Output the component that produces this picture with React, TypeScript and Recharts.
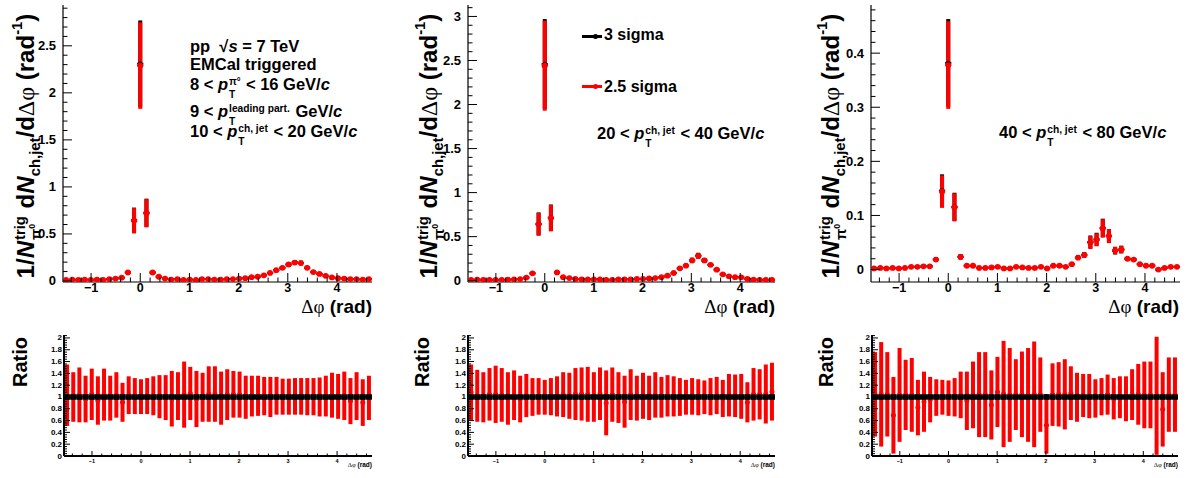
import React from "react";
import { ScatterChart, Scatter, XAxis, YAxis, ErrorBar } from "recharts";

const SANS = '"Liberation Sans", Arial, Helvetica, sans-serif';
const SERIF = '"Liberation Serif", "DejaVu Serif", serif';
const RED = "#ff0000";
const BLACK = "#000000";

// bin centres of the delta-phi histogram (50 bins over [-pi/2, 3pi/2])
const PHI = [
  -1.508, -1.382, -1.257, -1.131, -1.005, -0.88, -0.754, -0.628, -0.503, -0.377,
  -0.251, -0.126, 0.0, 0.126, 0.251, 0.377, 0.503, 0.628, 0.754, 0.88,
  1.005, 1.131, 1.257, 1.382, 1.508, 1.634, 1.759, 1.885, 2.011, 2.136,
  2.262, 2.388, 2.513, 2.639, 2.765, 2.89, 3.016, 3.142, 3.267, 3.393,
  3.519, 3.644, 3.77, 3.896, 4.021, 4.147, 4.273, 4.398, 4.524, 4.65,
];
const HALF_BIN = 0.0628;
const X_DOMAIN: [number, number] = [-1.5708, 4.7124];

// 10 < pT < 20
const Y1_25 = [
  0.01, 0.015, 0.012, 0.015, 0.012, 0.015, 0.012, 0.02, 0.025, 0.035,
  0.09, 0.64, 2.29, 0.72, 0.09, 0.045, 0.025, 0.015, 0.02, 0.01,
  0.015, 0.01, 0.02, 0.02, 0.015, 0.015, 0.02, 0.02, 0.025, 0.03,
  0.04, 0.045, 0.06, 0.085, 0.115, 0.14, 0.175, 0.195, 0.19, 0.14,
  0.095, 0.075, 0.055, 0.038, 0.03, 0.025, 0.02, 0.018, 0.015, 0.02,
];
const Y1_3 = [
  0.01, 0.015, 0.012, 0.015, 0.012, 0.015, 0.012, 0.02, 0.025, 0.035,
  0.09, 0.645, 2.31, 0.725, 0.09, 0.045, 0.025, 0.015, 0.02, 0.01,
  0.015, 0.01, 0.02, 0.02, 0.015, 0.015, 0.02, 0.02, 0.025, 0.03,
  0.04, 0.045, 0.06, 0.085, 0.115, 0.14, 0.175, 0.198, 0.192, 0.14,
  0.095, 0.075, 0.055, 0.038, 0.03, 0.025, 0.02, 0.018, 0.015, 0.02,
];
const E1 = [
  0.004, 0.004, 0.004, 0.004, 0.004, 0.004, 0.004, 0.004, 0.005, 0.005,
  0.012, 0.135, 0.46, 0.15, 0.012, 0.006, 0.005, 0.004, 0.004, 0.004,
  0.004, 0.004, 0.004, 0.004, 0.004, 0.004, 0.004, 0.004, 0.005, 0.005,
  0.006, 0.006, 0.008, 0.01, 0.013, 0.016, 0.02, 0.024, 0.024, 0.02,
  0.015, 0.011, 0.008, 0.006, 0.005, 0.005, 0.004, 0.004, 0.004, 0.004,
];

// 20 < pT < 40
const Y2_25 = [
  0.01, 0.012, 0.01, 0.01, 0.008, 0.01, 0.012, 0.015, 0.018, 0.035,
  0.083, 0.64, 2.44, 0.71, 0.094, 0.04, 0.03, 0.02, 0.015, 0.015,
  0.015, 0.015, 0.01, 0.01, 0.015, 0.015, 0.015, 0.02, 0.02, 0.025,
  0.03, 0.04, 0.057, 0.087, 0.14, 0.17, 0.23, 0.28, 0.23, 0.18,
  0.125, 0.072, 0.05, 0.04, 0.038, 0.02, 0.012, 0.01, 0.01, 0.01,
];
const Y2_3 = [
  0.01, 0.012, 0.01, 0.01, 0.008, 0.01, 0.012, 0.015, 0.018, 0.035,
  0.083, 0.645, 2.46, 0.715, 0.094, 0.04, 0.03, 0.02, 0.015, 0.015,
  0.015, 0.015, 0.01, 0.01, 0.015, 0.015, 0.015, 0.02, 0.02, 0.025,
  0.03, 0.04, 0.057, 0.087, 0.14, 0.17, 0.23, 0.285, 0.23, 0.18,
  0.125, 0.072, 0.05, 0.04, 0.038, 0.02, 0.012, 0.01, 0.01, 0.01,
];
const E2 = [
  0.004, 0.004, 0.004, 0.004, 0.004, 0.004, 0.004, 0.004, 0.005, 0.006,
  0.012, 0.13, 0.51, 0.15, 0.012, 0.006, 0.005, 0.004, 0.004, 0.004,
  0.004, 0.004, 0.004, 0.004, 0.004, 0.004, 0.004, 0.004, 0.005, 0.005,
  0.006, 0.007, 0.009, 0.012, 0.018, 0.02, 0.03, 0.032, 0.028, 0.022,
  0.016, 0.01, 0.008, 0.006, 0.006, 0.005, 0.004, 0.004, 0.004, 0.004,
];

// 40 < pT < 80
const Y3_25 = [
  0.002, 0.003, 0.002, 0.003, 0.002, 0.003, 0.005, 0.005, 0.006, 0.006,
  0.0185, 0.144, 0.378, 0.115, 0.0235, 0.007, 0.007, 0.003, 0.003, 0.004,
  0.005, 0.002, 0.002, 0.005, 0.004, 0.003, 0.003, 0.005, 0.002, 0.007,
  0.007, 0.005, 0.01, 0.022, 0.027, 0.05, 0.055, 0.076, 0.062, 0.035,
  0.037, 0.02, 0.0185, 0.01, 0.007, 0.007, 0.0, 0.003, 0.005, 0.005,
];
const Y3_3 = [
  0.002, 0.003, 0.002, 0.003, 0.002, 0.003, 0.005, 0.005, 0.006, 0.006,
  0.0185, 0.146, 0.382, 0.116, 0.0235, 0.007, 0.007, 0.003, 0.003, 0.004,
  0.005, 0.002, 0.002, 0.005, 0.004, 0.003, 0.003, 0.005, 0.002, 0.007,
  0.007, 0.005, 0.01, 0.022, 0.027, 0.051, 0.056, 0.077, 0.062, 0.035,
  0.037, 0.02, 0.0185, 0.01, 0.007, 0.007, 0.0, 0.003, 0.005, 0.005,
];
const E3 = [
  0.0015, 0.0015, 0.0015, 0.0015, 0.0015, 0.0015, 0.0015, 0.0015, 0.0015, 0.0015,
  0.004, 0.03, 0.081, 0.026, 0.005, 0.0015, 0.0015, 0.0015, 0.0015, 0.0015,
  0.0015, 0.0015, 0.0015, 0.0015, 0.0015, 0.0015, 0.0015, 0.0015, 0.0015, 0.002,
  0.002, 0.0015, 0.003, 0.004, 0.005, 0.012, 0.012, 0.017, 0.013, 0.007,
  0.007, 0.003, 0.003, 0.002, 0.0015, 0.0015, 0.0015, 0.0015, 0.0015, 0.0015,
];

// ratios 2.5 sigma / 3 sigma
const R1 = [
  1.03, 1.0, 1.035, 0.965, 1.045, 0.94, 1.04, 0.98, 1.035, 0.91,
  1.03, 1.015, 1.005, 1.015, 1.02, 1.005, 0.99, 0.97, 1.015, 1.04,
  1.06, 0.965, 0.995, 1.05, 1.05, 0.98, 1.04, 1.045, 1.04, 0.995,
  1.015, 1.02, 1.015, 1.0, 1.02, 1.005, 1.005, 1.01, 1.01, 1.005,
  1.005, 1.0, 1.015, 1.03, 1.01, 1.02, 0.93, 1.015, 0.905, 0.985,
];
const RE1 = [
  0.52, 0.42, 0.465, 0.395, 0.435, 0.41, 0.44, 0.38, 0.385, 0.33,
  0.32, 0.305, 0.295, 0.305, 0.33, 0.365, 0.38, 0.47, 0.405, 0.56,
  0.45, 0.475, 0.415, 0.47, 0.47, 0.45, 0.43, 0.395, 0.39, 0.365,
  0.345, 0.34, 0.325, 0.34, 0.32, 0.305, 0.305, 0.31, 0.31, 0.315,
  0.315, 0.33, 0.345, 0.38, 0.38, 0.41, 0.39, 0.405, 0.395, 0.375,
];
const R2 = [
  1.08, 1.02, 0.995, 1.045, 1.045, 1.035, 0.975, 1.03, 0.965, 1.025,
  1.0, 1.01, 0.995, 1.005, 1.01, 1.04, 1.02, 1.05, 1.05, 1.045,
  1.0, 1.055, 0.9, 1.04, 0.99, 0.92, 1.04, 0.98, 1.02, 0.985,
  1.035, 0.995, 1.02, 1.01, 1.0, 0.995, 1.01, 0.995, 0.995, 1.005,
  1.025, 0.975, 1.03, 1.02, 1.01, 0.91, 1.045, 1.045, 1.05, 1.09,
];
const RE2 = [
  0.47, 0.44, 0.425, 0.445, 0.485, 0.455, 0.445, 0.42, 0.395, 0.365,
  0.32, 0.31, 0.295, 0.315, 0.34, 0.38, 0.39, 0.44, 0.45, 0.465,
  0.42, 0.445, 0.55, 0.46, 0.43, 0.44, 0.43, 0.38, 0.39, 0.375,
  0.385, 0.345, 0.35, 0.34, 0.32, 0.295, 0.31, 0.305, 0.285, 0.315,
  0.315, 0.315, 0.36, 0.36, 0.38, 0.34, 0.445, 0.425, 0.5, 0.49,
];
const R3 = [
  1.045, 1.045, 1.045, 0.69, 1.035, 1.035, 1.035, 0.82, 0.92, 0.955,
  0.99, 0.995, 0.98, 0.995, 1.035, 0.935, 1.035, 1.04, 1.04, 0.865,
  1.085, 1.05, 1.035, 1.04, 1.045, 1.035, 1.045, 1.04, 0.52, 1.04,
  1.045, 1.045, 1.065, 0.995, 1.025, 1.015, 0.975, 1.005, 1.04, 0.97,
  0.995, 0.97, 1.04, 1.045, 1.035, 1.035, 1.02, 0.79, 1.04, 1.04,
];
const RE3 = [
  0.715, 0.885, 0.715, 0.65, 0.795, 0.595, 0.625, 0.47, 0.51, 0.385,
  0.31, 0.295, 0.3, 0.325, 0.395, 0.495, 0.565, 0.72, 0.72, 0.585,
  0.595, 0.9, 0.795, 0.6, 0.725, 0.795, 0.895, 0.63, 0.48, 0.53,
  0.545, 0.595, 0.455, 0.415, 0.365, 0.375, 0.325, 0.315, 0.34, 0.35,
  0.355, 0.38, 0.43, 0.515, 0.565, 0.565, 1.0, 0.63, 0.63, 0.63,
];
const ONES = [
  1, 1, 1, 1, 1, 1, 1, 1, 1, 1, 1, 1, 1, 1, 1, 1, 1, 1, 1, 1, 1, 1, 1, 1, 1,
  1, 1, 1, 1, 1, 1, 1, 1, 1, 1, 1, 1, 1, 1, 1, 1, 1, 1, 1, 1, 1, 1, 1, 1, 1,
];
const NO_ERR = [
  0, 0, 0, 0, 0, 0, 0, 0, 0, 0, 0, 0, 0, 0, 0, 0, 0, 0, 0, 0, 0, 0, 0, 0, 0,
  0, 0, 0, 0, 0, 0, 0, 0, 0, 0, 0, 0, 0, 0, 0, 0, 0, 0, 0, 0, 0, 0, 0, 0, 0,
];

// tick labels
const X_LABELS = [-1, 0, 1, 2, 3, 4];
const Y1_LABELS = [0, 0.5, 1, 1.5, 2, 2.5];
const Y2_LABELS = [0, 0.5, 1, 1.5, 2, 2.5, 3];
const Y3_LABELS = [0, 0.1, 0.2, 0.3, 0.4];
const R_LABELS = [0, 0.2, 0.4, 0.6, 0.8, 1, 1.2, 1.4, 1.6, 1.8, 2];

function steps(a: number, b: number, s: number) {
  const out: number[] = [];
  for (let i = 0; a + i * s <= b + 1e-9; i++) out.push(Math.round((a + i * s) * 10000) / 10000);
  return out;
}
const X_TICKS = steps(-1.4, 4.6, 0.2);

type Pt = { x: number; y: number; ey: number; ex: number };
const pts = (ys: number[], es: number[]): Pt[] =>
  PHI.map((x, i) => ({ x, y: ys[i], ey: es[i], ex: HALF_BIN }));

type Side = "left" | "right" | "bottom" | "top";
type TickCfg = { len: number; minor: number; font: number; gap: number };

function fmt(v: number) {
  const s = String(Math.round(Math.abs(v) * 100) / 100);
  return v < 0 ? "\u2212" + s : s;
}

function makeTick(side: Side, majors: number[], cfg: TickCfg, show: boolean) {
  return (props: any) => {
    const x = Number(props.x);
    const y = Number(props.y);
    const v = Number(props.payload?.value);
    const major = majors.some((m) => Math.abs(m - v) < 1e-6);
    const l = major ? cfg.len : cfg.minor;
    const dx = side === "left" ? l : side === "right" ? -l : 0;
    const dy = side === "bottom" ? -l : side === "top" ? l : 0;
    return (
      <g>
        <line x1={x} y1={y} x2={x + dx} y2={y + dy} stroke={BLACK} strokeWidth={1} />
        {show && major && side === "left" && (
          <text x={x - cfg.gap} y={y} textAnchor="end" dominantBaseline="central" fontFamily={SANS} fontWeight="bold" fontSize={cfg.font} fill={BLACK}>
            {fmt(v)}
          </text>
        )}
        {show && major && side === "bottom" && (
          <text x={x} y={y + cfg.gap} textAnchor="middle" dominantBaseline="hanging" fontFamily={SANS} fontWeight="bold" fontSize={cfg.font} fill={BLACK}>
            {fmt(v)}
          </text>
        )}
      </g>
    );
  };
}

type Series = { name: string; data: Pt[]; color: string; r: number; ey: number; ex: number };

function Panel(p: {
  x: number; y: number; w: number; h: number;
  yDomain: [number, number]; yTicks: number[]; yLabels: number[];
  series: Series[]; lw: number; xt: TickCfg; yt: TickCfg;
}) {
  const ML = 70, MR = 10, MT = 10, MB = 30;
  const axisLine = { stroke: BLACK, strokeWidth: p.lw };
  const common = { tickSize: 0, tickMargin: 0, tickLine: false, interval: 0 as const, allowDataOverflow: true, axisLine };
  return (
    <div style={{ position: "absolute", left: p.x - ML, top: p.y - MT }}>
      <ScatterChart width={p.w + ML + MR} height={p.h + MT + MB} margin={{ top: MT, right: MR, bottom: 0, left: 0 }}>
        <XAxis xAxisId="b" orientation="bottom" dataKey="x" type="number" domain={X_DOMAIN} ticks={X_TICKS} height={MB} tick={makeTick("bottom", X_LABELS, p.xt, true)} {...common} />
        <XAxis xAxisId="t" orientation="top" type="number" domain={X_DOMAIN} ticks={X_TICKS} height={0} tick={makeTick("top", X_LABELS, p.xt, false)} {...common} />
        <YAxis yAxisId="l" orientation="left" dataKey="y" type="number" domain={p.yDomain} ticks={p.yTicks} width={ML} tick={makeTick("left", p.yLabels, p.yt, true)} {...common} />
        <YAxis yAxisId="r" orientation="right" type="number" domain={p.yDomain} ticks={p.yTicks} width={0} tick={makeTick("right", p.yLabels, p.yt, false)} {...common} />
        {p.series.map((s) => (
          <Scatter
            key={s.name}
            name={s.name}
            xAxisId="b"
            yAxisId="l"
            data={s.data}
            isAnimationActive={false}
            shape={(q: any) => <circle cx={q.cx} cy={q.cy} r={s.r} fill={s.color} />}
          >
            {s.ey > 0 && <ErrorBar dataKey="ey" direction="y" width={0} stroke={s.color} strokeWidth={s.ey} isAnimationActive={false} />}
            {s.ex > 0 && <ErrorBar dataKey="ex" direction="x" width={0} stroke={s.color} strokeWidth={s.ex} isAnimationActive={false} />}
          </Scatter>
        ))}
      </ScatterChart>
    </div>
  );
}

const Sup = ({ children }: { children: React.ReactNode }) => (
  <span style={{ fontSize: "0.62em", verticalAlign: "0.75em" }}>{children}</span>
);
const Sub = ({ children }: { children: React.ReactNode }) => (
  <span style={{ fontSize: "0.62em", verticalAlign: "-0.45em" }}>{children}</span>
);
const Greek = ({ children }: { children: React.ReactNode }) => (
  <span style={{ fontFamily: SERIF, fontWeight: "normal" }}>{children}</span>
);
function Stack({ top, bottom, lh = 1.3, raise = "0.5em" }: { top: React.ReactNode; bottom: React.ReactNode; lh?: number; raise?: string }) {
  return (
    <span style={{ display: "inline-flex", flexDirection: "column", fontSize: "0.62em", lineHeight: lh, verticalAlign: raise, margin: "0 1px" }}>
      <span>{top}</span>
      <span>{bottom}</span>
    </span>
  );
}
const Pi0 = () => (
  <>
    π<span style={{ fontSize: "0.6em", verticalAlign: "0.6em" }}>0</span>
  </>
);
const PT = ({ sup }: { sup: React.ReactNode }) => (
  <>
    <i>p</i>
    <Stack top={sup} bottom="T" />
  </>
);

function Txt({ x, y, size, children, style }: { x: number; y: number; size: number; children: React.ReactNode; style?: React.CSSProperties }) {
  return (
    <div style={{ position: "absolute", left: x, top: y, fontFamily: SANS, fontWeight: "bold", fontSize: size, lineHeight: 1, whiteSpace: "nowrap", ...style }}>
      {children}
    </div>
  );
}

function Rotated({ cx, cy, size, children }: { cx: number; cy: number; size: number; children: React.ReactNode }) {
  return (
    <div style={{ position: "absolute", left: cx, top: cy, transform: "translate(-50%, -50%) rotate(-90deg)", fontFamily: SANS, fontWeight: "bold", fontSize: size, lineHeight: 1, whiteSpace: "nowrap" }}>
      {children}
    </div>
  );
}

const YTitle = ({ cx }: { cx: number }) => (
  <Rotated cx={cx} cy={146} size={24}>
    1/<i>N</i>
    <Stack top="trig" bottom={<Pi0 />} lh={1.0} raise="0.55em" />
    {" "}d<i>N</i>
    <Sub>ch,jet</Sub>/d<Greek>Δφ</Greek> (rad<Sup>-1</Sup>)
  </Rotated>
);

const XTitle = ({ right, top, size }: { right: number; top: number; size: number }) => (
  <Txt x={right - 200} y={top} size={size} style={{ width: 200, textAlign: "right" }}>
    <Greek>Δφ</Greek> (rad)
  </Txt>
);

const TOP_XT: TickCfg = { len: 9, minor: 4.5, font: 12.5, gap: 1.5 };
const TOP_YT: TickCfg = { len: 9, minor: 4.5, font: 13, gap: 7 };
const R_XT: TickCfg = { len: 5, minor: 2.5, font: 5.5, gap: 3 };
const R_YT: TickCfg = { len: 6, minor: 3, font: 8, gap: 2 };

function topSeries(y3: number[], y25: number[], e: number[]): Series[] {
  return [
    { name: "3 sigma", data: pts(y3, e), color: BLACK, r: 2.2, ey: 4, ex: 2 },
    { name: "2.5 sigma", data: pts(y25, e), color: RED, r: 2.9, ey: 4, ex: 2 },
  ];
}
function ratioSeries(r: number[], re: number[]): Series[] {
  return [
    { name: "2.5 sigma / 3 sigma", data: pts(r, re), color: RED, r: 2.5, ey: 4, ex: 0 },
    { name: "3 sigma / 3 sigma", data: pts(ONES, NO_ERR), color: BLACK, r: 3, ey: 0, ex: 5.5 },
  ];
}

const TOPS = [
  { x: 63, w: 309, dom: [-0.011, 2.934] as [number, number], ticks: steps(0, 2.9, 0.1), labels: Y1_LABELS, s: topSeries(Y1_3, Y1_25, E1) },
  { x: 468, w: 307, dom: [-0.015, 3.13] as [number, number], ticks: steps(0, 3.1, 0.1), labels: Y2_LABELS, s: topSeries(Y2_3, Y2_25, E2) },
  { x: 871, w: 309, dom: [-0.023, 0.489] as [number, number], ticks: steps(0, 0.48, 0.02), labels: Y3_LABELS, s: topSeries(Y3_3, Y3_25, E3) },
];
const RATIOS = [
  { x: 64, w: 308, s: ratioSeries(R1, RE1) },
  { x: 468, w: 307, s: ratioSeries(R2, RE2) },
  { x: 872, w: 306, s: ratioSeries(R3, RE3) },
];

export default function App() {
  return (
    <div style={{ position: "absolute", left: 0, top: 0, width: 1186, height: 478, background: "#fff", overflow: "hidden", fontFamily: SANS }}>
      {TOPS.map((t) => (
        <Panel key={t.x} x={t.x} y={5} w={t.w} h={277} yDomain={t.dom} yTicks={t.ticks} yLabels={t.labels} series={t.s} lw={1.2} xt={TOP_XT} yt={TOP_YT} />
      ))}
      {RATIOS.map((t) => (
        <Panel key={t.x} x={t.x} y={335} w={t.w} h={121} yDomain={[0, 2.05]} yTicks={steps(0, 2.04, 0.04)} yLabels={R_LABELS} series={t.s} lw={2} xt={R_XT} yt={R_YT} />
      ))}

      <YTitle cx={27} />
      <YTitle cx={430} />
      <YTitle cx={832} />
      <XTitle right={372} top={297} size={19} />
      <XTitle right={775} top={297} size={19} />
      <XTitle right={1179} top={297} size={19} />

      {[20, 422, 826].map((cx) => (
        <Rotated key={cx} cx={cx} cy={362} size={20}>Ratio</Rotated>
      ))}
      {[372, 775, 1178].map((r) => (
        <XTitle key={r} right={r} top={462} size={6.5} />
      ))}

      <Txt x={190} y={38} size={16.5}>pp&nbsp;&nbsp;√<i>s</i> = 7 TeV</Txt>
      <Txt x={190} y={55.5} size={16.5}>EMCal triggered</Txt>
      <Txt x={190} y={74.5} size={16.5}>8 &lt; <PT sup={<Pi0 />} /> &lt; 16 GeV/<i>c</i></Txt>
      <Txt x={190} y={101.5} size={16.5}>9 &lt; <PT sup="leading part." /> GeV/<i>c</i></Txt>
      <Txt x={190} y={122} size={16.5}>10 &lt; <PT sup="ch, jet" /> &lt; 20 GeV/<i>c</i></Txt>

      <div style={{ position: "absolute", left: 582, top: 35, width: 20, height: 3, background: BLACK }} />
      <div style={{ position: "absolute", left: 593, top: 34, width: 5, height: 5, borderRadius: 3, background: BLACK }} />
      <Txt x={604} y={27} size={16}>3 sigma</Txt>
      <div style={{ position: "absolute", left: 582, top: 85, width: 20, height: 3, background: RED }} />
      <div style={{ position: "absolute", left: 593, top: 84, width: 5, height: 5, borderRadius: 3, background: RED }} />
      <Txt x={604} y={78.5} size={16}>2.5 sigma</Txt>

      <Txt x={597} y={123.5} size={16.5}>20 &lt; <PT sup="ch, jet" /> &lt; 40 GeV/<i>c</i></Txt>
      <Txt x={999} y={122.5} size={16.5}>40 &lt; <PT sup="ch, jet" /> &lt; 80 GeV/<i>c</i></Txt>
    </div>
  );
}
